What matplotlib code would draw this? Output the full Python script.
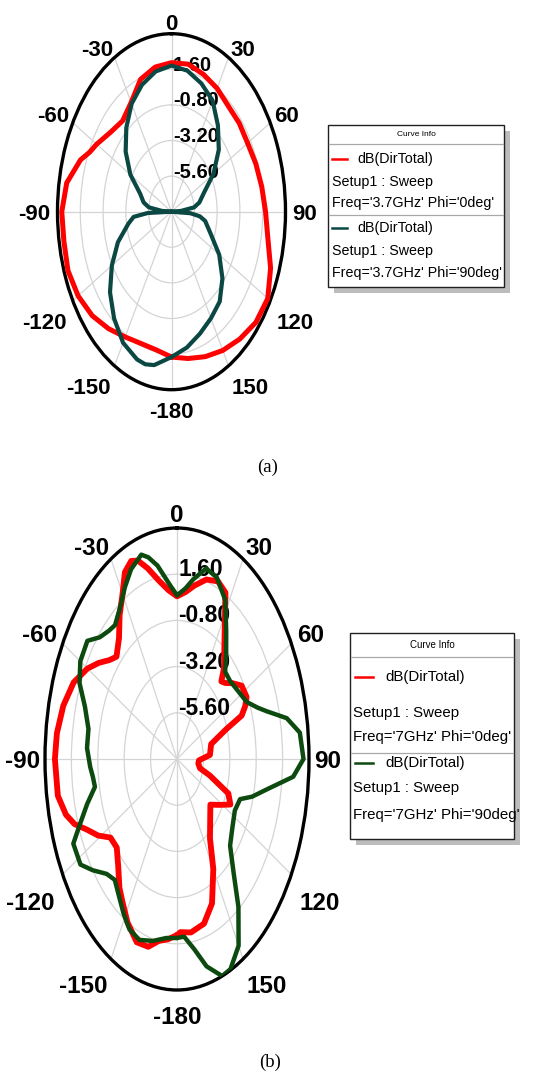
import numpy as np
import matplotlib
matplotlib.use("Agg")
import matplotlib.pyplot as plt
import matplotlib.transforms as mtransforms
from matplotlib.patches import Rectangle
from matplotlib.lines import Line2D

# ---------------------------------------------------------------- data
R_MIN, R_MAX = -8.0, 4.0
r_ticks = [-5.6, -3.2, -0.8, 1.6]
r_tick_labels = ["-5.60", "-3.20", "-0.80", "1.60"]
theta_ticks = [0, 30, 60, 90, 120, 150, 180, -150, -120, -90, -60, -30]
theta_tick_labels = ["0", "30", "60", "90", "120", "150", "-180",
                     "-150", "-120", "-90", "-60", "-30"]

# (a) 3.7 GHz, Phi = 0 deg
ang_a0 = [-180, -170, -160, -150, -140, -130, -120, -110, -100, -90, -80, -70,
          -65, -60, -50, -40, -30, -20, -10, 0, 10, 20, 30, 40, 50, 60, 70,
          80, 90, 100, 110, 120, 130, 140, 150, 160, 170, 180]
db_a0 = [1.8, 1.45, 1.45, 1.75, 2.3, 2.9, 3.35, 3.6, 3.5, 3.55, 3.2, 2.2,
         1.5, 1.1, 0.35, 0.0, 0.5, 1.5, 1.9, 2.05, 2.1, 1.85, 1.6, 1.3, 1.3,
         1.25, 1.45, 1.65, 1.9, 2.3, 3.1, 3.7, 3.6, 3.2, 2.8, 2.4, 2.05, 1.8]

# (a) 3.7 GHz, Phi = 90 deg
ang_a90 = [-180, -170, -165, -160, -150, -140, -130, -120, -110, -100, -95,
           -92, -90, -87, -83, -78, -70, -60, -50, -40, -30, -20, -10, 0, 10,
           20, 30, 40, 50, 60, 70, 78, 83, 87, 90, 93, 96, 100, 110, 120, 130,
           140, 150, 160, 170, 180]
db_a90 = [1.8, 2.5, 2.65, 2.6, 2.2, 1.4, 0.45, -0.75, -2.0, -3.4, -4.0,
          -5.5, -9.0, -7.0, -5.6, -5.0, -4.5, -3.0, -1.7, -0.6, 0.4, 1.1, 1.6,
          1.85, 1.65, 1.2, 0.65, -0.4, -1.5, -2.9, -4.4, -5.0, -5.6, -7.0,
          -9.0, -6.0, -5.0, -4.4, -3.6, -2.2, -1.0, -0.1, 0.3, 0.75, 1.3, 1.8]

# (b) 7 GHz, Phi = 0 deg
ang_b0 = [-180, -175, -170, -165, -159, -152, -146, -142, -136, -130, -124,
          -119, -114, -110, -106, -100, -90, -83, -75, -67, -60, -55, -50,
          -46, -40, -35, -30, -26, -22, -19, -15, -10, -5, 0, 5, 10, 16, 22,
          27, 31, 37, 42, 45, 48, 52, 57, 63, 66, 69, 71, 76, 86, 92, 97,
          103, 106, 111, 116, 122, 128, 134, 144, 150, 157, 164, 172, 178,
          180]
db_b0 = [1.15, 1.4, 1.6, 2.1, 2.2, 1.6, 0.9, 0.5, -0.3, -0.85, -0.7,
         0.2, 1.0, 1.9, 2.5, 3.0, 3.1, 3.0, 2.7, 2.2, 1.4, 0.7, 0.0,
         -0.35, 0.2, 1.1, 1.9, 2.8, 3.1, 2.9, 2.25, 1.4, 0.8, 0.45, 0.7,
         1.15, 1.7, 1.95, 1.7, 0.45, -0.85, -1.6, -2.3, -2.1, -1.6, -1.0,
         -0.9, -1.2, -1.7, -3.3, -4.8, -5.0, -6.0, -6.05, -5.85, -4.9, -3.0,
         -2.6, -3.5, -4.15, -3.8, -2.9, -1.4, 0.15, 0.9, 1.1, 1.0, 1.15]

# (b) 7 GHz, Phi = 90 deg
ang_b90 = [-180, -174, -167, -160, -154, -149, -145, -138, -133, -127, -122,
           -115, -111, -106, -101, -97, -93, -86, -79, -72, -66, -60, -53,
           -48, -43, -39, -33, -28, -23, -17, -14, -10, -4, 0, 5, 9, 15, 21,
           28, 34, 39, 44, 50, 58, 65, 70, 73, 78, 83, 90, 95, 101, 106, 110,
           117, 126, 133, 139, 144, 150, 156, 160, 166, 171, 176, 180]
db_b90 = [1.3, 1.35, 1.7, 2.0, 1.85, 1.4, 1.0, 0.45, 0.75, 1.6, 2.35,
          2.4, 1.45, 0.5, -0.4, -0.3, -0.1, 0.2, 0.2, 0.8, 1.7, 2.15, 2.2,
          1.45, 1.1, 0.95, 1.45, 2.1, 2.7, 3.1, 2.8, 2.2, 1.05, 0.5, 0.9,
          1.45, 2.25, 2.1, 1.35, 0.0, -0.9, -1.7, -1.7, -1.4, -1.0, -0.2, 0.5,
          2.2, 3.25, 3.5, 2.6, 0.3, -0.9, -1.9, -2.1, -1.8, -1.4, -0.15, 1.5,
          3.2, 3.95, 4.0, 3.1, 2.0, 1.25, 1.3]

legend_title = "Curve Info"
trace_name = "dB(DirTotal)"
setup_name = "Setup1 : Sweep"
freq_a = ["Freq='3.7GHz' Phi='0deg'", "Freq='3.7GHz' Phi='90deg'"]
freq_b = ["Freq='7GHz' Phi='0deg'", "Freq='7GHz' Phi='90deg'"]

RED = "#ff0000"
TEAL = "#0b4843"
DKGREEN = "#0d4a10"

# ---------------------------------------------------------------- figure
W, H = 542, 1075
DPI = 100
fig = plt.figure(figsize=(W / DPI, H / DPI), dpi=DPI)
fig.patch.set_facecolor("white")

SANS = ["Liberation Sans", "DejaVu Sans"]
SERIF = ["Liberation Serif", "DejaVu Serif"]


def px_offset(dx, dy):
    """Offset in pixels (dy positive = up)."""
    return mtransforms.ScaledTranslation(dx / DPI, dy / DPI, fig.dpi_scale_trans)


def fx(x):
    return x / W


def fy(y):
    return 1.0 - y / H


def polar_panel(cx, cy, a, b, series, angle_fs, r_fs, angle_pads, r_dy):
    ax = fig.add_axes([fx(cx - a), fy(cy + b), 2 * a / W, 2 * b / H],
                      projection="polar")
    ax.set_aspect("auto")
    ax.set_theta_zero_location("N")
    ax.set_theta_direction(-1)
    ax.set_xticks(np.deg2rad(np.mod(theta_ticks, 360)))
    ax.set_xticklabels([])
    ax.set_xticks(np.deg2rad(np.arange(0, 360, 5)), minor=True)
    ax.set_thetalim(0, 2 * np.pi)
    ax.set_ylim(R_MIN, R_MAX)
    ax.set_yticks(r_ticks)
    ax.set_yticklabels([])
    ax.tick_params(axis="x", which="major", direction="in", length=7,
                   width=1.6, colors="black", pad=0)
    ax.tick_params(axis="x", which="minor", direction="in", length=3.5,
                   width=1.2, colors="black")
    ax.tick_params(axis="y", length=0)
    ax.grid(True, color="#d4d4d4", linewidth=0.9)
    ax.set_axisbelow(True)
    ax.spines["polar"].set_linewidth(2.4)
    ax.spines["polar"].set_color("black")
    ax.patch.set_alpha(0)

    # radial scale labels just above each ring, right of the 0-deg spoke
    for r, lab in zip(r_ticks, r_tick_labels):
        ax.text(0, r, lab, transform=ax.transData + px_offset(1.5, r_dy),
                ha="left", va="center_baseline", fontsize=r_fs,
                fontweight="bold", family=SANS, zorder=2)

    # angle labels around the rim
    for ang, lab in zip(theta_ticks, theta_tick_labels):
        t = np.deg2rad(ang)
        xa = 0.5 + 0.5 * np.sin(t)
        ya = 0.5 + 0.5 * np.cos(t)
        c = np.cos(t)
        s = np.sin(t)
        if abs(s) < 1e-6:
            ha = "center"
        elif s > 0:
            ha = "left"
        else:
            ha = "right"
        if abs(c) < 1e-6:
            va = "center_baseline"
        elif c > 0:
            va = "baseline"
        else:
            va = "top"
        dx, dy = angle_pads[abs(ang)]
        dx = dx if s >= 0 else -dx
        ax.text(xa, ya, lab, transform=ax.transAxes + px_offset(dx, dy),
                ha=ha, va=va, fontsize=angle_fs, fontweight="bold",
                family=SANS, zorder=2, clip_on=False)

    for ang, db, col, lw in series:
        th = np.deg2rad(np.asarray(ang, dtype=float))
        rr = np.maximum(np.asarray(db, dtype=float), R_MIN)
        ax.plot(th, rr, color=col, linewidth=lw, solid_joinstyle="round",
                solid_capstyle="round", zorder=3)
    return ax


def legend_box(x0, y0, x1, y1, head_y, sep_y, rows, colors, fs, title_fs,
               sample, name_x, text_x):
    # drop shadow
    fig.patches.append(Rectangle((fx(x0 + 6), fy(y1 + 6)), (x1 - x0) / W,
                                 (y1 - y0) / H, transform=fig.transFigure,
                                 facecolor="#bcbcbc", edgecolor="none",
                                 zorder=1))
    fig.patches.append(Rectangle((fx(x0), fy(y1)), (x1 - x0) / W,
                                 (y1 - y0) / H, transform=fig.transFigure,
                                 facecolor="white", edgecolor="#202020",
                                 linewidth=1.0, zorder=2))
    for yy in (head_y, sep_y):
        fig.lines.append(Line2D([fx(x0 + 1), fx(x1 - 1)], [fy(yy), fy(yy)],
                                transform=fig.transFigure, color="#a8a8a8",
                                linewidth=0.9, zorder=3))
    fig.text(fx((x0 + x1) / 2), fy((y0 + head_y) / 2), legend_title,
             ha="center", va="center", fontsize=title_fs, family=SANS,
             zorder=4)
    for (y_name, y_setup, y_freq, freq), col in zip(rows, colors):
        fig.lines.append(Line2D([fx(sample[0]), fx(sample[1])],
                                [fy(y_name), fy(y_name)],
                                transform=fig.transFigure, color=col,
                                linewidth=1.8, zorder=4))
        fig.text(fx(name_x), fy(y_name), trace_name, ha="left", va="center",
                 fontsize=fs, family=SANS, zorder=4)
        fig.text(fx(text_x), fy(y_setup), setup_name, ha="left", va="center",
                 fontsize=fs, family=SANS, zorder=4)
        fig.text(fx(text_x), fy(y_freq), freq, ha="left", va="center",
                 fontsize=fs, family=SANS, zorder=4)


# ---------------------------------------------------------------- panel (a)
pads_a = {0: (0, 4), 30: (1.5, 1.5), 60: (4, 1), 90: (7, 0),
          120: (6, -12), 150: (3.5, -12), 180: (0, -12)}
polar_panel(171.5, 211.7, 114, 178,
            [(ang_a0, db_a0, RED, 3.6), (ang_a90, db_a90, TEAL, 3.0)],
            angle_fs=16, r_fs=14.5, angle_pads=pads_a, r_dy=6)

legend_box(328, 125, 504, 287, head_y=144, sep_y=215,
           rows=[(159, 181.7, 202.7, freq_a[0]),
                 (228.3, 251, 273.3, freq_a[1])],
           colors=[RED, TEAL], fs=10.3, title_fs=6,
           sample=(332, 347), name_x=357.5, text_x=331.5)

fig.text(fx(268), fy(467), "(a)", ha="center", va="center", fontsize=13.5,
         family=SERIF)

# ---------------------------------------------------------------- panel (b)
pads_b = {0: (0, 6), 30: (2, 4), 60: (5.5, 1), 90: (5, 0),
          120: (8, -17), 150: (4, -16), 180: (0, -16)}
polar_panel(177, 759, 132, 231,
            [(ang_b0, db_b0, RED, 4.2), (ang_b90, db_b90, DKGREEN, 3.2)],
            angle_fs=17.5, r_fs=16.5, angle_pads=pads_b, r_dy=7)

legend_box(350, 633, 514, 839, head_y=657, sep_y=753,
           rows=[(676.7, 713.3, 736.7, freq_b[0]),
                 (763.3, 788.3, 815, freq_b[1])],
           colors=[RED, DKGREEN], fs=10.8, title_fs=7,
           sample=(355, 373), name_x=385, text_x=353)

fig.text(fx(270), fy(1062), "(b)", ha="center", va="center", fontsize=13.5,
         family=SERIF)

fig.savefig("out.png", dpi=DPI, facecolor="white")
